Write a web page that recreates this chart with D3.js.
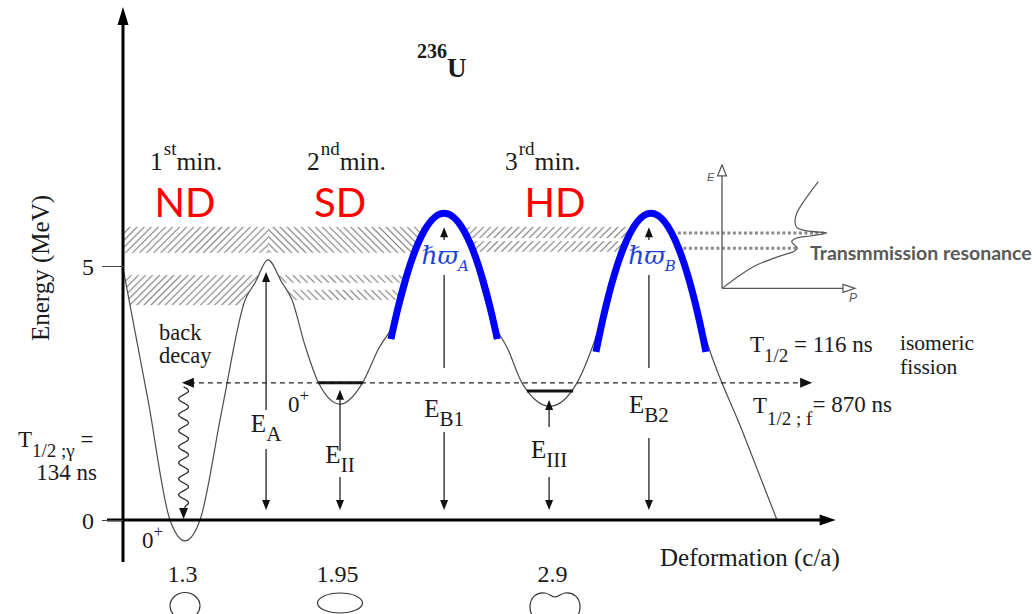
<!DOCTYPE html>
<html>
<head>
<meta charset="utf-8">
<script src="https://cdn.jsdelivr.net/npm/d3@7/dist/d3.min.js"></script>
<style>
  html, body { margin: 0; padding: 0; background: #fff; }
  svg { display: block; }
  .serif { font-family: "Liberation Serif", "Times New Roman", serif; fill: #1a1a1a; white-space: pre; }
  .red { font-family: Lato, "Liberation Sans", sans-serif; fill: #ff0000; }
  .hw { font-family: "DejaVu Serif", serif; font-style: italic; fill: #1f3fd6; }
</style>
</head>
<body>
<svg id="chart" width="1036" height="614"></svg>
<script>
// ---------------- data ----------------
// Potential energy of 236U along the fission path: deformation (c/a) and energy (MeV)
const potDef = [1.04, 1.145, 1.237, 1.30, 1.363, 1.455, 1.552, 1.594, 1.648, 1.707,
                1.749, 1.803, 1.858, 1.95, 2.052, 2.118, 2.202, 2.303, 2.41, 2.516,
                2.617, 2.693, 2.754, 2.878, 2.997, 3.068, 3.125, 3.218, 3.324, 3.43,
                3.523, 3.576, 3.726, 3.881];
const potE   = [4.96, 2.36, 0, -0.41, 0, 2.17, 4.33, 4.67, 5.12, 4.67,
                4.33, 3.44, 2.72, 2.28, 2.72, 3.35, 3.98, 5.47, 6.04, 5.47,
                3.98, 3.35, 2.70, 2.24, 2.70, 3.44, 4.23, 5.51, 6.04, 5.51,
                4.23, 3.44, 1.77, 0];

// Axis ticks
const energyTicks = [0, 5];
const defTicks = [1.3, 1.95, 2.9];
const defShapes = ["sphere", "prolate", "necked"];

// The three minima
const minOrdinal = ["1", "2", "3"];
const minSuffix  = ["st", "nd", "rd"];
const minName    = ["ND", "SD", "HD"];
const minDef     = [1.3, 1.95, 2.9];

// Ground levels of the 2nd and 3rd minimum
const levelE    = [2.70, 2.54];
const levelFrom = [1.858, 2.776];
const levelTo   = [2.052, 2.980];

// Isomeric state (dashed line, back decay / fission)
const isoE = 2.70, isoFrom = 1.287, isoTo = 4.036, backDecayDef = 1.294;

// Energy arrows E_A, E_II, E_B1, E_III, E_B2
const arrowKey  = ["A", "II", "B1", "III", "B2"];
const arrowDef  = [1.64, 1.95, 2.41, 2.874, 3.315];
const arrowTopE = [5.12, 2.70, 6.04, 2.54, 6.04];

// Parabolic barriers (ħω_A, ħω_B)
const hwKey      = ["A", "B"];
const hwPeakDef  = [2.41, 3.324];
const hwPeakE    = [6.04, 6.04];
const hwLeftDef  = [2.175, 3.081];
const hwRightDef = [2.645, 3.567];
const hwEndE     = [3.56, 3.31];

// Hatched level bands inside the wells
const bandLow    = [5.26, 5.26, 4.23, 4.67, 4.33, 5.55, 5.28];
const bandHigh   = [5.77, 5.77, 4.82, 4.82, 4.53, 5.77, 5.49];
const bandFrom   = [1.00, 1.648, 1.00, 1.648, 1.648, 2.41, 2.41];
const bandTo     = [1.648, 2.41, 1.648, 2.41, 2.41, 3.324, 3.324];
const bandRegion = ["ND", "SD", "ND", "SD", "SD", "HD", "HD"];

// Inset: transmission probability P against energy E
const insetP = [0, 0.135, 0.261, 0.386, 0.486, 0.536, 0.566, 0.524, 0.562, 0.662,
                0.787, 0.637, 0.562, 0.549, 0.562, 0.724];
const insetE = [4.56, 4.82, 5.02, 5.15, 5.24, 5.28, 5.35, 5.48, 5.55, 5.59,
                5.65, 5.69, 5.76, 5.87, 6.04, 6.66];
const resE = [5.65, 5.35];
const resP = [0.787, 0.566];
const resFromDef = 3.443;

// ---------------- drawing ----------------
const svg = d3.select("#chart");
const defs = svg.append("defs");

const x = d3.scaleLinear().domain(defTicks).range([185, 340, 555]);
const y = d3.scaleLinear().domain([0, 5]).range([520, 266]);
const p = d3.scaleLinear().domain([0, 1]).range([722, 855]);

const X0 = x(1.04);           // energy axis position
const pot = potDef.map((d, i) => [d, potE[i]]);

// hatch patterns
function hatchPattern(id, angle) {
  defs.append("pattern").attr("id", id).attr("patternUnits", "userSpaceOnUse")
    .attr("width", 5).attr("height", 5).attr("patternTransform", `rotate(${angle})`)
    .append("line").attr("x1", 2.5).attr("y1", -1).attr("x2", 2.5).attr("y2", 6)
    .attr("stroke", "#878787").attr("stroke-width", 1.25);
}
hatchPattern("hatchFwd", 45);
hatchPattern("hatchBack", -45);
const regionHatch = { ND: "url(#hatchFwd)", SD: "url(#hatchBack)", HD: "url(#hatchFwd)" };

// clip = everything above the potential curve
defs.append("clipPath").attr("id", "wellClip").append("path")
  .attr("d", d3.area().x(d => x(d[0])).y0(0).y1(d => y(d[1])).curve(d3.curveMonotoneX)(pot));

const bands = svg.append("g").attr("clip-path", "url(#wellClip)");
bandLow.forEach((lo, i) => {
  bands.append("rect")
    .attr("x", x(bandFrom[i])).attr("width", x(bandTo[i]) - x(bandFrom[i]))
    .attr("y", y(bandHigh[i])).attr("height", y(lo) - y(bandHigh[i]))
    .attr("fill", regionHatch[bandRegion[i]]);
});

// resonance lines running into the inset
resE.forEach((e, i) => {
  svg.append("line")
    .attr("x1", x(resFromDef)).attr("x2", p(resP[i]))
    .attr("y1", y(e)).attr("y2", y(e))
    .attr("stroke", "#8a8a8a").attr("stroke-width", 3).attr("stroke-dasharray", "3,2.5");
});

// potential curve
svg.append("path")
  .attr("d", d3.line().x(d => x(d[0])).y(d => y(d[1])).curve(d3.curveMonotoneX)(pot))
  .attr("fill", "none").attr("stroke", "#4d4d4d").attr("stroke-width", 1.2);

// axes
svg.append("line").attr("x1", X0).attr("x2", X0).attr("y1", 562).attr("y2", 22)
  .attr("stroke", "#000").attr("stroke-width", 3);
svg.append("path").attr("d", `M${X0},7 L${X0 - 5.5},25 L${X0 + 5.5},25 Z`).attr("fill", "#000");
const xEnd = x(4.14);
svg.append("line").attr("x1", 107).attr("x2", xEnd - 12).attr("y1", y(0)).attr("y2", y(0))
  .attr("stroke", "#000").attr("stroke-width", 3);
svg.append("path").attr("d", `M${xEnd},${y(0)} L${xEnd - 16},${y(0) - 5.5} L${xEnd - 16},${y(0) + 5.5} Z`)
  .attr("fill", "#000");

const yAxisG = svg.append("g").attr("transform", `translate(${X0},0)`)
  .call(d3.axisLeft(y).tickValues(energyTicks).tickSize(21).tickPadding(8).tickFormat(d3.format("d")));
yAxisG.attr("font-family", null).attr("font-size", null);
yAxisG.select(".domain").remove();
yAxisG.selectAll(".tick line").attr("stroke", "#444").attr("stroke-width", 1);
yAxisG.selectAll(".tick text").attr("class", "serif").attr("font-size", 24).attr("dy", "0.35em");

const xAxisG = svg.append("g").attr("transform", `translate(-3,${y(0)})`)
  .call(d3.axisBottom(x).tickValues(defTicks).tickSize(0).tickPadding(45).tickFormat(d => String(d)));
xAxisG.attr("font-family", null).attr("font-size", null);
xAxisG.select(".domain").remove();
xAxisG.selectAll(".tick text").attr("class", "serif").attr("font-size", 24);

svg.append("text").attr("class", "serif").attr("font-size", 25)
  .attr("transform", "translate(49,268) rotate(-90)").attr("text-anchor", "middle")
  .text("Energy (MeV)");
svg.append("text").attr("class", "serif").attr("font-size", 25)
  .attr("x", 660).attr("y", 566).text("Deformation (c/a)");

// nuclear shapes under the deformation ticks
defTicks.forEach((d, i) => {
  const cx = x(d);
  const g = svg.append("g").attr("fill", "none").attr("stroke", "#333").attr("stroke-width", 1.2);
  if (defShapes[i] === "sphere") {
    g.append("ellipse").attr("cx", cx).attr("cy", 606).attr("rx", 15).attr("ry", 13.5);
  } else if (defShapes[i] === "prolate") {
    g.append("ellipse").attr("cx", cx).attr("cy", 603).attr("rx", 22.5).attr("ry", 10);
  } else {
    const c = 607;
    g.append("path").attr("d",
      `M${cx - 25},${c} C${cx - 25},${c - 10} ${cx - 18},${c - 15} ${cx - 10},${c - 14}` +
      ` C${cx - 5},${c - 13} ${cx - 3},${c - 10} ${cx},${c - 10}` +
      ` C${cx + 3},${c - 10} ${cx + 5},${c - 13} ${cx + 10},${c - 14}` +
      ` C${cx + 18},${c - 15} ${cx + 25},${c - 10} ${cx + 25},${c}` +
      ` C${cx + 25},${c + 10} ${cx + 18},${c + 15} ${cx + 10},${c + 14}` +
      ` C${cx + 5},${c + 13} ${cx + 3},${c + 10} ${cx},${c + 10}` +
      ` C${cx - 3},${c + 10} ${cx - 5},${c + 13} ${cx - 10},${c + 14}` +
      ` C${cx - 18},${c + 15} ${cx - 25},${c + 10} ${cx - 25},${c} Z`);
  }
});

// level lines in the 2nd and 3rd well
levelE.forEach((e, i) => {
  svg.append("line").attr("x1", x(levelFrom[i])).attr("x2", x(levelTo[i]))
    .attr("y1", y(e)).attr("y2", y(e)).attr("stroke", "#111").attr("stroke-width", 3);
});

// arrowheads
function head(x0, y0, dir, len = 10, half = 4) {
  const d = {
    up:    `M${x0},${y0} L${x0 - half},${y0 + len} L${x0 + half},${y0 + len} Z`,
    down:  `M${x0},${y0} L${x0 - half},${y0 - len} L${x0 + half},${y0 - len} Z`,
    left:  `M${x0},${y0} L${x0 + len},${y0 - half} L${x0 + len},${y0 + half} Z`,
    right: `M${x0},${y0} L${x0 - len},${y0 - half} L${x0 - len},${y0 + half} Z`
  }[dir];
  svg.append("path").attr("d", d).attr("fill", "#111");
}

// isomeric dashed line
svg.append("line").attr("x1", x(isoFrom) + 8).attr("x2", x(isoTo) - 8)
  .attr("y1", y(isoE)).attr("y2", y(isoE))
  .attr("stroke", "#222").attr("stroke-width", 1.4).attr("stroke-dasharray", "5,4");
head(x(isoFrom), y(isoE), "left", 12, 5);
head(x(isoTo), y(isoE), "right", 12, 5);

// back decay (wavy gamma line)
{
  const cx = x(backDecayDef), y1 = y(isoE) + 4, y2 = y(0) - 14;
  const pts = d3.range(0, 1.0001, 1 / 120).map(t => {
    const yy = y1 + t * (y2 - y1);
    return [cx + 5 * Math.sin((yy - y1) / 16 * 2 * Math.PI), yy];
  });
  pts.push([cx, y(0) - 8]);
  svg.append("path").attr("d", d3.line().curve(d3.curveBasis)(pts))
    .attr("fill", "none").attr("stroke", "#222").attr("stroke-width", 1.2);
  head(cx, y(0) - 1, "down", 11, 4.5);
}

// parabolic barriers
hwKey.forEach((k, i) => {
  const x0 = x(hwLeftDef[i]), x2 = x(hwRightDef[i]), xv = x(hwPeakDef[i]);
  const ye = y(hwEndE[i]), yv = y(hwPeakE[i]);
  const pth = d3.path();
  pth.moveTo(x0, ye);
  pth.quadraticCurveTo(xv, 2 * yv - ye, x2, ye);
  svg.append("path").attr("d", pth.toString()).attr("fill", "none")
    .attr("stroke", "#0000ff").attr("stroke-width", 7);
  const t = svg.append("text").attr("class", "hw").attr("x", xv + 1).attr("y", 264)
    .attr("text-anchor", "middle").attr("font-size", 25);
  t.append("tspan").text("ℏϖ");
  t.append("tspan").attr("dy", 7).attr("font-size", 15).text(k);
});

// energy arrows with labels
const arrowTopGap = [12, 7, 14, 9, 14];
const arrowLabelY = [432, 463, 417, 458, 413];
const arrowGaps = [
  [[410, 449]],
  [[451, 477]],
  [[240, 275], [368, 432]],
  [[427, 477]],
  [[240, 275], [368, 438]]
];
arrowKey.forEach((k, i) => {
  const ax = x(arrowDef[i]);
  const top = y(arrowTopE[i]) + arrowTopGap[i];
  const bottom = y(0) - 10;
  const lab = svg.append("text").attr("class", "serif").attr("x", ax).attr("y", arrowLabelY[i])
    .attr("text-anchor", "middle").attr("font-size", 25);
  lab.append("tspan").text("E");
  lab.append("tspan").attr("dy", 9).attr("font-size", 21).text(k);
  let start = top + 8;
  arrowGaps[i].forEach(([g0, g1]) => {
    svg.append("line").attr("x1", ax).attr("x2", ax).attr("y1", start).attr("y2", g0)
      .attr("stroke", "#222").attr("stroke-width", 1.3);
    start = g1;
  });
  svg.append("line").attr("x1", ax).attr("x2", ax).attr("y1", start).attr("y2", bottom - 8)
    .attr("stroke", "#222").attr("stroke-width", 1.3);
  head(ax, top, "up");
  head(ax, bottom, "down");
});

// minima labels
const minLabelX = [150, 307, 505];
minOrdinal.forEach((o, i) => {
  const t = svg.append("text").attr("class", "serif").attr("x", minLabelX[i]).attr("y", 170).attr("font-size", 25.5);
  t.append("tspan").text(o);
  t.append("tspan").attr("dy", -15).attr("dx", 1).attr("font-size", 19).text(minSuffix[i]);
  t.append("tspan").attr("dy", 15).text("min.");
  svg.append("text").attr("class", "red").attr("x", x(minDef[i])).attr("y", 217)
    .attr("text-anchor", "middle").attr("font-size", 40).text(minName[i]);
});

// nucleus
{
  const t = svg.append("text").attr("class", "serif").attr("x", 417).attr("y", 58).attr("font-weight", "bold");
  t.append("tspan").attr("font-size", 20).text("236");
  t.append("tspan").attr("dy", 19).attr("font-size", 27).text("U");
}

// spin labels 0+
[[288, 412], [142, 548]].forEach(([lx, ly]) => {
  const t = svg.append("text").attr("class", "serif").attr("x", lx).attr("y", ly).attr("font-size", 23);
  t.append("tspan").text("0");
  t.append("tspan").attr("dy", -11).attr("font-size", 17).text("+");
});

// back decay text
svg.append("text").attr("class", "serif").attr("x", 159).attr("y", 340).attr("font-size", 22.5).text("back");
svg.append("text").attr("class", "serif").attr("x", 159).attr("y", 363).attr("font-size", 22.5).text("decay");

// half-lives
{
  const t = svg.append("text").attr("class", "serif").attr("x", 18).attr("y", 447).attr("font-size", 23);
  t.append("tspan").text("T");
  t.append("tspan").attr("dy", 10).attr("font-size", 19).text("1/2 ;γ");
  t.append("tspan").attr("dy", -10).text(" =");
  svg.append("text").attr("class", "serif").attr("x", 97).attr("y", 480).attr("text-anchor", "end")
    .attr("font-size", 23).text("134 ns");

  const a = svg.append("text").attr("class", "serif").attr("x", 750).attr("y", 352).attr("font-size", 23);
  a.append("tspan").text("T");
  a.append("tspan").attr("dy", 10).attr("font-size", 19).text("1/2");
  a.append("tspan").attr("dy", -10).text(" = 116 ns");
  svg.append("text").attr("class", "serif").attr("x", 900).attr("y", 350).attr("font-size", 21.5).text("isomeric");
  svg.append("text").attr("class", "serif").attr("x", 900).attr("y", 374).attr("font-size", 21.5).text("fission");

  const b = svg.append("text").attr("class", "serif").attr("x", 753).attr("y", 413).attr("font-size", 23);
  b.append("tspan").text("T");
  b.append("tspan").attr("dy", 12).attr("font-size", 19).text("1/2 ; f");
  b.append("tspan").attr("dy", -13).text("= 870 ns");
}

// inset: transmission resonance
{
  const ic = "#555";
  const ox = p(0), oy = y(insetE[0]);
  const eTop = y(6.99), pEnd = p(1);
  svg.append("line").attr("x1", ox).attr("x2", ox).attr("y1", oy).attr("y2", eTop + 11)
    .attr("stroke", ic).attr("stroke-width", 1.3);
  svg.append("path").attr("d", `M${ox},${eTop} L${ox - 4.5},${eTop + 11} L${ox + 4.5},${eTop + 11} Z`)
    .attr("fill", "#fff").attr("stroke", ic).attr("stroke-width", 1.2);
  svg.append("line").attr("x1", ox).attr("x2", pEnd - 12).attr("y1", oy).attr("y2", oy)
    .attr("stroke", ic).attr("stroke-width", 1.3);
  svg.append("path").attr("d", `M${pEnd},${oy} L${pEnd - 12},${oy - 4} L${pEnd - 12},${oy + 4} Z`)
    .attr("fill", "#fff").attr("stroke", ic).attr("stroke-width", 1.2);
  svg.append("text").attr("x", ox - 15).attr("y", eTop + 16).attr("font-family", "Liberation Sans, sans-serif")
    .attr("font-style", "italic").attr("font-size", 11).attr("fill", ic).text("E");
  svg.append("text").attr("x", pEnd - 6).attr("y", oy + 14).attr("font-family", "Liberation Sans, sans-serif")
    .attr("font-style", "italic").attr("font-size", 12).attr("fill", ic).text("P");
  const ipts = insetP.map((v, i) => [v, insetE[i]]);
  svg.append("path")
    .attr("d", d3.line().x(d => p(d[0])).y(d => y(d[1])).curve(d3.curveCatmullRom.alpha(0.5))(ipts))
    .attr("fill", "none").attr("stroke", ic).attr("stroke-width", 1.2);
  svg.append("text").attr("x", 810).attr("y", 260).attr("font-family", "Lato, 'Liberation Sans', sans-serif")
    .attr("font-weight", "bold").attr("font-size", 19.5).attr("fill", "#595959").text("Transmmission resonance");
}
</script>
</body>
</html>
